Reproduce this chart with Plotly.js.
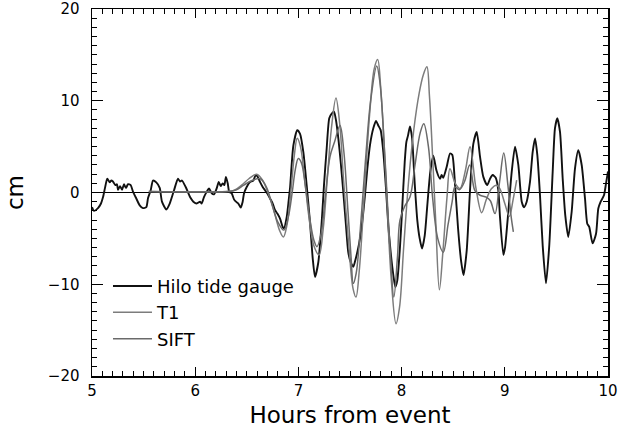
<!DOCTYPE html>
<html>
<head>
<meta charset="utf-8">
<script src="https://cdn.plot.ly/plotly-3.0.1.min.js"></script>
<style>html,body{margin:0;padding:0;background:#fff;}#chart{width:619px;height:433px;}</style>
</head>
<body>
<div id="chart"></div>
<script>
// Hilo tide gauge (hours from event, cm)
var hiloHours = [5.000,5.019,5.058,5.087,5.107,5.126,5.148,5.172,5.184,5.203,5.226,5.242,5.252,5.271,5.291,5.310,5.329,5.349,5.375,5.397,5.429,5.462,5.494,5.526,5.543,5.569,5.591,5.623,5.656,5.678,5.720,5.753,5.795,5.833,5.853,5.872,5.908,5.950,5.982,6.015,6.047,6.063,6.085,6.111,6.134,6.160,6.182,6.208,6.228,6.247,6.266,6.282,6.298,6.315,6.330,6.354,6.376,6.395,6.418,6.441,6.460,6.473,6.499,6.531,6.563,6.586,6.606,6.628,6.654,6.676,6.699,6.725,6.751,6.773,6.796,6.822,6.848,6.860,6.887,6.906,6.919,6.951,6.989,7.016,7.048,7.080,7.112,7.139,7.161,7.193,7.226,7.248,7.274,7.299,7.323,7.345,7.364,7.387,7.410,7.435,7.461,7.483,7.507,7.532,7.551,7.575,7.597,7.623,7.645,7.668,7.694,7.726,7.752,7.774,7.797,7.823,7.849,7.871,7.894,7.920,7.939,7.958,7.984,8.004,8.030,8.046,8.062,8.081,8.101,8.127,8.152,8.175,8.198,8.224,8.249,8.278,8.307,8.338,8.372,8.388,8.404,8.437,8.469,8.491,8.517,8.547,8.578,8.600,8.631,8.663,8.695,8.728,8.760,8.792,8.830,8.857,8.883,8.912,8.937,8.953,8.986,9.002,9.034,9.067,9.099,9.131,9.164,9.186,9.212,9.244,9.270,9.293,9.315,9.341,9.367,9.399,9.431,9.464,9.486,9.509,9.535,9.561,9.586,9.615,9.648,9.680,9.712,9.745,9.777,9.799,9.818,9.851,9.884,9.906,9.929,9.961,9.981,10.000];
var hiloCm = [-1.6,-2.0,-1.7,-1.2,-0.5,0.5,1.5,1.1,1.3,1.2,0.8,0.9,0.3,0.7,0.3,0.9,0.5,0.9,0.8,0.1,-0.65,-1.4,-1.7,-1.6,-0.6,0.25,1.3,1.1,0.5,-1.0,-1.85,-1.2,0.25,1.5,1.2,1.3,0.6,-0.5,-1.0,-1.2,-1.0,-1.2,-0.5,0.07,0.45,-0.1,-0.2,0.45,1.15,0.7,1.0,0.8,1.7,1.0,0.07,-0.1,-0.75,-1.0,-1.2,-1.65,-1.0,-0.1,0.6,1.15,1.3,1.9,1.7,1.15,0.6,0.25,-0.1,-0.65,-1.2,-1.9,-2.3,-2.85,-3.75,-3.9,-2.65,-0.85,0.5,5.1,6.8,6.4,4.4,0.8,-3.2,-7.2,-9.2,-7.6,-3.2,0.8,4.8,8.1,8.6,8.8,7.9,5.9,3.3,0.07,-3.6,-6.5,-7.6,-8.1,-7.4,-6.3,-5.0,-2.8,-0.3,2.6,5.2,7.0,7.8,7.3,6.8,4.4,0.4,-3.6,-6.5,-9.0,-10.3,-9.6,-6.0,-2.1,3.3,5.5,6.2,7.2,6.0,1.0,-3.0,-5.0,-6.1,-4.7,-1.4,2.25,4.0,2.4,1.5,1.9,1.6,2.8,4.25,4.1,1.0,-3.9,-7.6,-9.0,-6.3,0.25,5.3,6.6,3.9,1.7,0.8,1.5,1.9,1.6,0.25,-2.6,-6.8,-6.0,-2.1,2.25,5.0,3.0,-1.0,-1.6,-1.0,1.15,4.4,5.9,4.1,-0.3,-5.75,-9.9,-5.75,2.25,7.0,8.1,6.6,1.5,-2.5,-4.85,-2.1,2.6,4.6,3.0,-0.65,-3.4,-3.75,-5.55,-4.5,-1.75,-1.0,-0.3,1.0,2.3];

// T1 model
var t1Hours = [5.55,6.30,6.38,6.45,6.52,6.596,6.65,6.72,6.77,6.82,6.854,6.89,6.93,6.96,6.989,7.02,7.06,7.10,7.15,7.20,7.24,7.28,7.32,7.364,7.40,7.44,7.49,7.53,7.558,7.59,7.64,7.69,7.735,7.768,7.80,7.85,7.90,7.946,7.98,8.02,8.07,8.12,8.17,8.21,8.245,8.27,8.30,8.33,8.366,8.40,8.44,8.469,8.52,8.566,8.62,8.663,8.72,8.776,8.82,8.87,8.92,8.953,9.00,9.044,9.08,9.115];
var t1Cm = [0.12,0.12,0.25,0.8,1.5,2.0,1.4,-0.5,-2.3,-4.2,-4.85,-3.5,0.5,4.0,5.9,5.0,1.5,-2.5,-5.8,-6.8,-4.0,1.5,7.0,10.3,7.5,1.0,-6.0,-10.5,-11.4,-8.5,0.0,8.5,13.5,14.5,11.0,1.0,-9.5,-14.3,-12.5,-6.0,1.5,7.0,10.8,12.8,13.7,10.5,4.0,-3.0,-10.6,-6.5,-0.5,2.6,1.0,0.44,2.5,5.0,0.5,-2.2,-0.8,0.4,0.8,0.4,-1.2,-2.6,-0.8,1.34];

// SIFT model
var siftHours = [5.55,6.33,6.40,6.47,6.55,6.63,6.69,6.75,6.80,6.86,6.90,6.94,6.97,6.999,7.03,7.07,7.11,7.15,7.18,7.22,7.26,7.306,7.35,7.403,7.44,7.48,7.51,7.532,7.56,7.60,7.65,7.70,7.759,7.79,7.84,7.89,7.925,7.96,7.984,8.03,8.081,8.13,8.18,8.215,8.26,8.30,8.35,8.404,8.45,8.49,8.517,8.56,8.61,8.66,8.71,8.76,8.82,8.86,8.905,8.95,8.99,9.03,9.06,9.083];
var siftCm = [0.12,0.12,0.3,0.8,1.3,1.5,0.6,-1.5,-3.2,-4.1,-2.8,0.0,2.5,3.7,3.2,0.5,-2.8,-5.2,-5.9,-4.5,-0.5,3.9,5.5,7.3,4.5,-2.0,-7.0,-9.9,-8.8,-4.0,3.5,10.0,13.8,12.0,3.5,-6.5,-11.4,-7.0,-3.0,-1.5,-0.5,3.0,6.5,7.5,5.0,-0.5,-5.0,-6.5,-3.5,-1.0,0.6,0.3,1.2,3.0,0.2,-0.3,-0.5,-0.9,-2.3,1.2,4.3,0.8,-2.5,-4.3];

var seriesNames = ['Hilo tide gauge', 'T1', 'SIFT'];

var FONT = 'DejaVu Sans, Liberation Sans, sans-serif';

var traces = [
  {x: hiloHours, y: hiloCm, name: seriesNames[0], type: 'scatter', mode: 'lines',
   line: {color: '#111111', width: 1.9, shape: 'spline', smoothing: 0.6}},
  {x: t1Hours, y: t1Cm, name: seriesNames[1], type: 'scatter', mode: 'lines',
   line: {color: '#7c7c7c', width: 1.5, shape: 'spline', smoothing: 1}},
  {x: siftHours, y: siftCm, name: seriesNames[2], type: 'scatter', mode: 'lines',
   line: {color: '#6a6a6a', width: 1.5, shape: 'spline', smoothing: 1}}
];

var layout = {
  width: 619, height: 433,
  margin: {l: 92, r: 11, t: 9, b: 57},
  paper_bgcolor: '#fff', plot_bgcolor: '#fff',
  font: {family: FONT, color: '#000', size: 15},
  showlegend: true,
  legend: {x: 0.031, y: 0.295, xanchor: 'left', yanchor: 'top', bgcolor: 'rgba(0,0,0,0)',
           font: {family: FONT, size: 18, color: '#000'}, traceorder: 'normal', tracegroupgap: 0,
           itemwidth: 39},
  xaxis: {range: [5, 10], tickmode: 'linear', tick0: 5, dtick: 1,
          ticks: 'inside', ticklen: 9, tickwidth: 1.3, tickcolor: '#000',
          showline: true, linewidth: 1.5, linecolor: '#000', mirror: 'ticks',
          showgrid: false, zeroline: false,
          minor: {dtick: 0.1, tick0: 5, ticks: 'inside', ticklen: 5, tickwidth: 1, tickcolor: '#000', showgrid: false},
          tickfont: {family: FONT, size: 15},
          title: {text: 'Hours from event', font: {family: FONT, size: 23}, standoff: 8}},
  yaxis: {range: [-20, 20], tickmode: 'linear', tick0: -20, dtick: 10,
          ticks: 'inside', ticklen: 11, tickwidth: 1.3, tickcolor: '#000',
          showline: true, linewidth: 1.5, linecolor: '#000', mirror: 'ticks',
          showgrid: false, zeroline: true, zerolinecolor: '#000', zerolinewidth: 1.5,
          minor: {dtick: 1, tick0: -20, ticks: 'inside', ticklen: 5, tickwidth: 1, tickcolor: '#000', showgrid: false},
          tickfont: {family: FONT, size: 15}, ticklabelstandoff: 8,
          title: {text: 'cm', font: {family: FONT, size: 23}, standoff: 18}}
};

Plotly.newPlot('chart', traces, layout, {displayModeBar: false, staticPlot: true});
</script>
</body>
</html>
